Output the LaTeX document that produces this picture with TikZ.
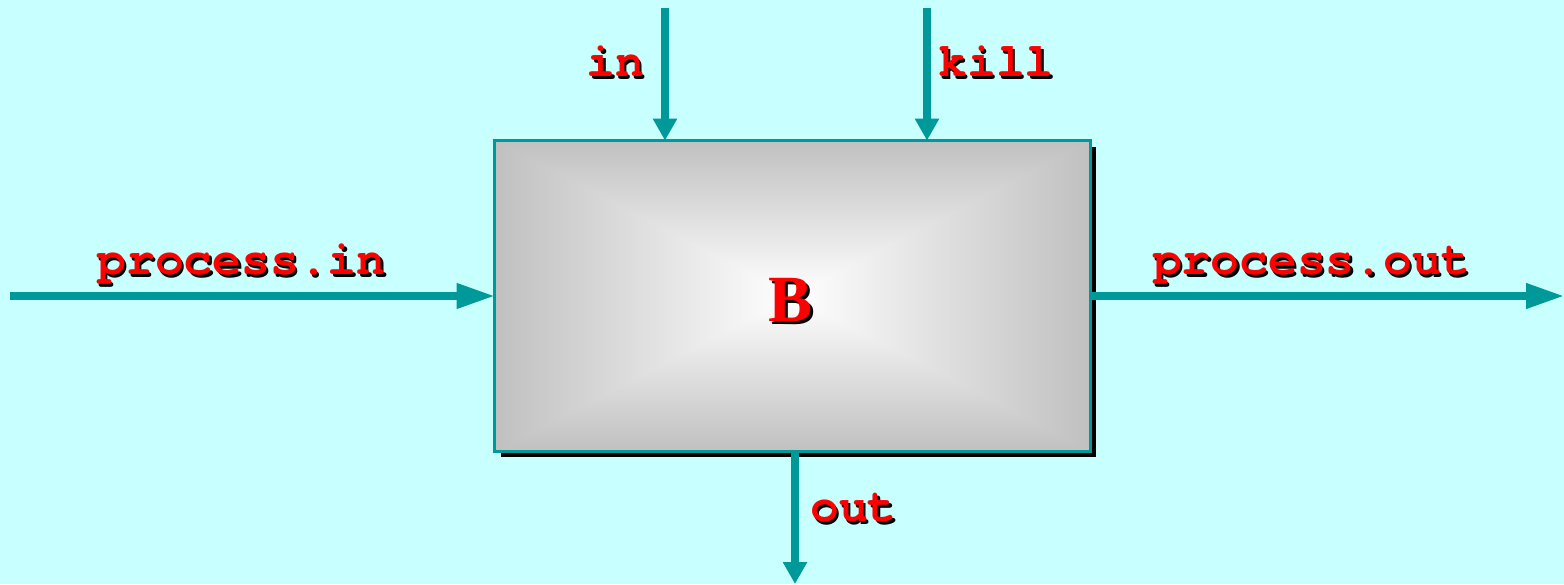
\documentclass[tikz,border=0pt]{standalone}
\usepackage{fontspec}
\setmonofont{TeX Gyre Cursor}
\newfontfamily\serifbold{Liberation Serif}
\usetikzlibrary{positioning, arrows.meta, backgrounds}

\definecolor{bgcyan}{RGB}{200,255,255}
\definecolor{flowteal}{RGB}{0,153,153}
\definecolor{boxgray}{RGB}{192,192,192}
\definecolor{lblred}{RGB}{255,0,0}

% red label with a black drop shadow
\newcommand{\redlabel}[4]{%
  \node[lbl, text=black, #2] (#1-s) at ([shift={(1.2pt,-1.2pt)}]#3) {#4};
  \node[lbl, #2] (#1) at (#3) {#4};}

\begin{document}
\begin{tikzpicture}[
    x=0.5pt, y=0.5pt,
    block/.style={
      rectangle, inner sep=0pt,
      minimum width=297.5pt, minimum height=155pt,
    },
    frame/.style={draw=flowteal, line width=1.2pt},
    vflow/.style={-{Triangle[length=11pt, width=11.5pt]}, line width=3.6pt, flowteal},
    hflow/.style={-{Triangle[length=19pt, width=12pt]}, line width=3.6pt, flowteal},
    lbl/.style={
      font=\ttfamily\bfseries\fontsize{24}{28}\selectfont,
      text=lblred, inner sep=0pt, anchor=base,
    },
    biglbl/.style={font=\serifbold\bfseries\fontsize{33}{38}\selectfont},
]
\useasboundingbox (0,0) rectangle (1564,584);

% the block
\node[block] (blk) at (792.5,288) {};

\begin{scope}[on background layer]
  \fill[bgcyan] (0,0) rectangle (1564,584);
  \fill[black] ([shift={(3pt,-3pt)}]blk.south west) rectangle ([shift={(3pt,-3pt)}]blk.north east);
  \shade[top color=boxgray, bottom color=boxgray, middle color=white] (blk.south west) rectangle (blk.north east);
  \shade[left color=boxgray, right color=white] (blk.north west) -- (blk.center) -- (blk.south west) -- cycle;
  \shade[right color=boxgray, left color=white] (blk.north east) -- (blk.center) -- (blk.south east) -- cycle;
\end{scope}
\draw[frame] (blk.south west) rectangle (blk.north east);

% free ends of the connectors
\coordinate (inTop) at (665,576);
\coordinate (killTop) at (927,576);
\coordinate (pinLeft) at (10,288);
\coordinate (poutRight) at (1564,288);
\coordinate (outBot) at (795,0);

% connectors
\draw[vflow] (inTop) -- (inTop |- blk.north);
\draw[vflow] (killTop) -- (killTop |- blk.north);
\draw[hflow] (pinLeft) -- (blk.west);
\draw[hflow] (blk.east) -- (poutRight);
\draw[vflow] (outBot |- blk.south) -- (outBot);

% labels
\redlabel{lblIn}{}{615.5,507}{in}
\redlabel{lblKill}{}{996,507}{kill}
\redlabel{lblPin}{}{241.5,309}{process.in}
\redlabel{lblPout}{}{1311.5,309}{process.out}
\redlabel{lblOut}{}{853.5,62}{out}
\redlabel{lblB}{biglbl}{791,262}{B}
\end{tikzpicture}
\end{document}
